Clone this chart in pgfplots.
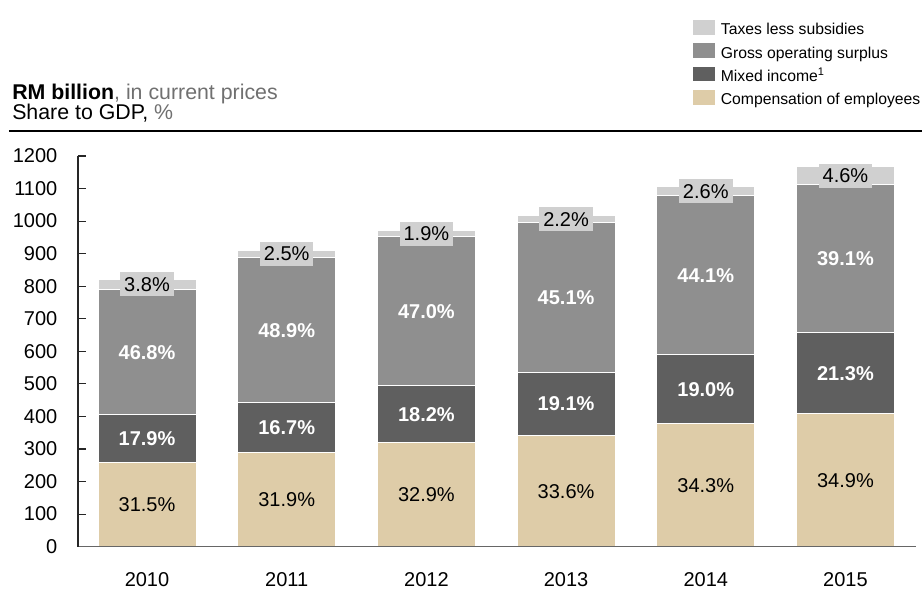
\documentclass[border=0pt]{standalone}
\usepackage{pgfplots}
\pgfplotsset{compat=1.18}
\usepackage{pgfplotstable}
\usepackage{fontspec}
\setmainfont{Liberation Sans}

\definecolor{ctax}{RGB}{208,208,208}
\definecolor{cgos}{RGB}{143,143,143}
\definecolor{cmix}{RGB}{95,95,95}
\definecolor{ccomp}{RGB}{222,204,168}
\definecolor{cgraytext}{RGB}{112,112,112}

\pgfplotstableread{
x comp mixed gos tax pcomp pmixed pgos ptax
0 258.9 147.1 384.7 31.2 31.5 17.9 46.8 3.8
1 290.6 152.1 445.5 22.8 31.9 16.7 48.9 2.5
2 319.5 176.7 456.4 18.4 32.9 18.2 47.0 1.9
3 342.0 194.4 459.1 22.4 33.6 19.1 45.1 2.2
4 379.4 210.1 487.7 28.8 34.3 19.0 44.1 2.6
5 407.6 248.8 456.7 53.7 34.9 21.3 39.1 4.6
}\data

\pgfplotsset{
  /pgf/number format/assume math mode=true,
  /pgf/number format/1000 sep={},
  common/.style={
    at={(0,0)}, anchor=south west, scale only axis,
    width=628.3pt, height=293pt,
    xmin=-0.494, xmax=5.503, ymin=0, ymax=1200,
  },
  lbl/.style={
    draw=none, mark=none, forget plot,
    point meta=explicit,
    nodes near coords={\pgfmathprintnumber[fixed,fixed zerofill,precision=1,assume math mode=true]{\pgfplotspointmeta}\%},
    every node near coord/.style={anchor=center, inner sep=0pt,
      text height=10.8pt, text depth=0pt, font=\fontsize{15}{18}\selectfont},
  },
}

\begin{document}
\begin{tikzpicture}
\useasboundingbox (-58.5pt,-33.2pt) rectangle (633pt,410pt);
\begin{axis}[
  common,
  ybar stacked, bar width=73.5pt,
  axis x line=bottom, axis y line=left,
  axis line style={-},
  x axis line style={black!60, line width=0.8pt},
  y axis line style={black!85, line width=0.8pt},
  axis on top,
  ytick={0,100,...,1200},
  xtick={0,...,5},
  xticklabels={2010,2011,2012,2013,2014,2015},
  tick align=inside,
  major tick length=6pt,
  ytick style={black!85, line width=0.8pt},
  xtick style={draw=none},
  tick label style={font=\fontsize{15}{18}\selectfont},
  yticklabel style={xshift=-12pt},
  xticklabel style={yshift=-16pt},
  reverse legend,
  legend cell align=left,
  legend image code/.code={\fill[#1, draw=none] (0pt,-2.8pt) rectangle (16.3pt,8.2pt); \path (20.6pt,0pt);},
  legend style={at={(0.7337,1.349)}, anchor=north west, draw=none, fill=none,
    inner sep=0pt, row sep=3.8pt,
    font=\fontsize{11.8}{14}\selectfont,
    nodes={inner sep=0pt, text height=8.5pt, text depth=2.5pt}},
]
\addplot[fill=ccomp, draw=white, line width=0.75pt] table[x=x,y=comp]{\data};
\addlegendentry{Compensation of employees}
\addplot[fill=cmix, draw=white, line width=0.75pt] table[x=x,y=mixed]{\data};
\addlegendentry{Mixed income\textsuperscript{1}}
\addplot[fill=cgos, draw=white, line width=0.75pt] table[x=x,y=gos]{\data};
\addlegendentry{Gross operating surplus}
\addplot[fill=ctax, draw=white, line width=0.75pt] table[x=x,y=tax]{\data};
\addlegendentry{Taxes less subsidies}
\end{axis}

\begin{axis}[common, hide axis, clip=false]
\addplot[lbl] table[x=x, y expr=\thisrow{comp}/2, meta=pcomp]{\data};
\addplot[lbl, every node near coord/.append style={text=white, font=\fontsize{15}{18}\selectfont\bfseries}]
  table[x=x, y expr=\thisrow{comp}+\thisrow{mixed}/2, meta=pmixed]{\data};
\addplot[lbl, every node near coord/.append style={text=white, font=\fontsize{15}{18}\selectfont\bfseries}]
  table[x=x, y expr=\thisrow{comp}+\thisrow{mixed}+\thisrow{gos}/2, meta=pgos]{\data};
\addplot[lbl, every node near coord/.append style={fill=ctax, inner xsep=3pt, minimum height=18pt}]
  table[x=x, y expr=\thisrow{comp}+\thisrow{mixed}+\thisrow{gos}+\thisrow{tax}/2, meta=ptax]{\data};
\end{axis}

\node[anchor=base west, inner sep=0pt, font=\fontsize{16}{19}\selectfont] at (-49.5pt,335pt)
  {\textbf{RM billion}\textcolor{cgraytext}{, in current prices}};
\node[anchor=base west, inner sep=0pt, font=\fontsize{16}{19}\selectfont] at (-49.5pt,320.5pt)
  {Share to GDP, \textcolor{cgraytext}{\%}};
\draw[line width=1pt] (-51.75pt,311.8pt) -- (633pt,311.8pt);
\end{tikzpicture}
\end{document}
